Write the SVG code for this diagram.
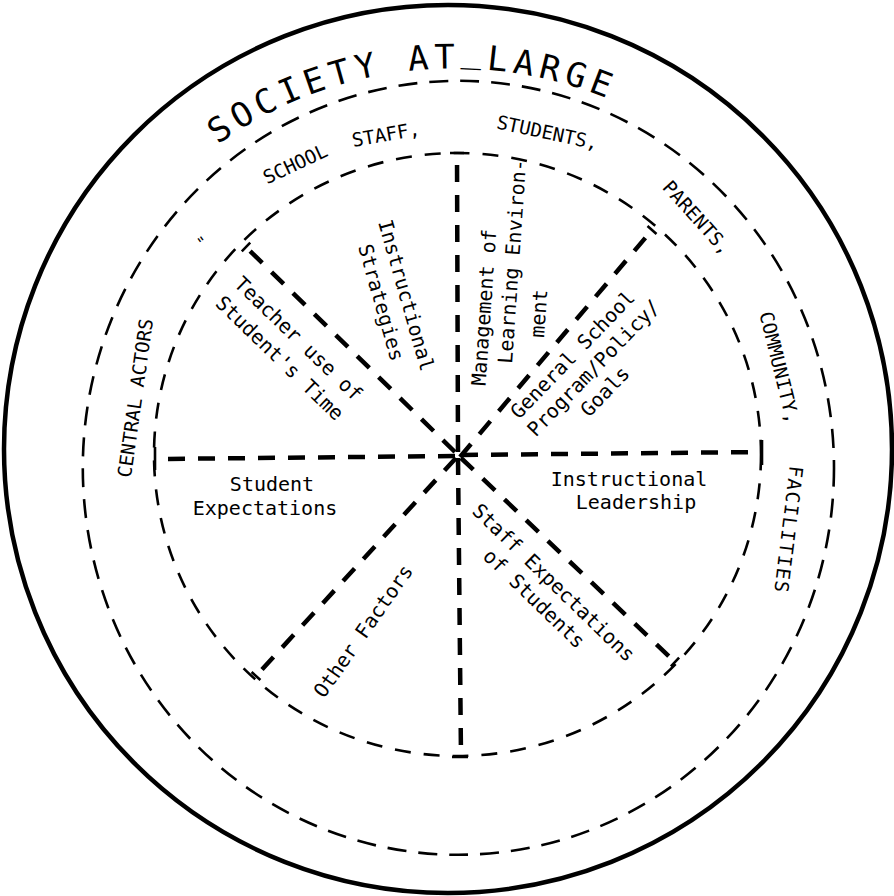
<svg xmlns="http://www.w3.org/2000/svg" width="894" height="896" viewBox="0 0 894 896">
<style>
.bg{fill:#fff}
.outer{fill:none;stroke:#000;stroke-width:4.5}
.ringM{fill:none;stroke:#000;stroke-width:2.6;stroke-dasharray:19 12}
.ringI{fill:none;stroke:#000;stroke-width:2.6;stroke-dasharray:16 13}
.tick{fill:none;stroke:#000;stroke-width:2.6}
.spoke{fill:none;stroke:#000;stroke-width:4.5;stroke-dasharray:17 13}
text{font-family:"DejaVu Sans Mono","Liberation Mono",monospace;fill:#000}
.title{font-size:34px;letter-spacing:5.4px}
.rl{font-size:19px;text-anchor:middle}
.sl{font-size:20px;text-anchor:middle}
.ss{font-size:20px}
</style>
<defs>
<path id="titleArc" d="M217.6,144.5 A405.5,405.5 0 0 1 714.7,163.4"/>
</defs>
<rect class="bg" x="0" y="0" width="894" height="896"/>

<g id="society-at-large">
<circle class="outer" cx="448" cy="449" r="444"/>
<text class="title"><textPath href="#titleArc">SOCIETY AT<tspan dy="-7">_</tspan><tspan dy="7">LARGE</tspan></textPath></text>
</g>

<g id="central-actors">
<ellipse class="ringM" cx="458.4" cy="467.8" rx="375.6" ry="387"/>
<text class="rl" transform="translate(298,170) rotate(-25)">SCHOOL</text>
<text class="rl" transform="translate(387,141) rotate(-10)">STAFF,</text>
<text class="rl" transform="translate(546,139) rotate(12)">STUDENTS,</text>
<text class="rl" transform="translate(692,222) rotate(48)">PARENTS,</text>
<text class="rl" transform="translate(773,369) rotate(76)">COMMUNITY,</text>
<text class="rl" transform="translate(782,529) rotate(97)" style="letter-spacing:1.4px">FACILITIES</text>
<text class="rl" transform="translate(142,399) rotate(-82)">CENTRAL ACTORS</text>
<text class="rl" transform="translate(206,247) rotate(-35)" style="font-size:16px">"</text>
</g>

<g id="factors-ring">
<ellipse class="ringI" cx="457.5" cy="454.5" rx="303.5" ry="301.5"/>
<path class="tick" d="M450,153H464 M241.8,251.3L250.2,242.7 M647.5,226.1L656.5,233.9 M679.1,657.7L670.9,666.3 M251.6,672L260.4,680 M452,757H468 M155,447V470 M762,440V465"/>
</g>

<g id="connectors">
<path class="spoke" d="M458,452L457,153"/>
<path class="spoke" d="M460,457L652,230"/>
<path class="spoke" d="M461,455L762,452"/>
<path class="spoke" d="M461,458L675,662"/>
<path class="spoke" d="M458,458L461,757"/>
<path class="spoke" d="M456,458L256,676"/>
<path class="spoke" d="M455,456L160,459"/>
<path class="spoke" d="M455,452L246,247"/>
</g>

<g id="teacher-use-of-students-time">
<text class="sl" transform="translate(293.7,343.7) rotate(44)"><tspan x="0" y="0">Teacher use of</tspan><tspan x="0" y="27">Student's Time</tspan></text>
</g>

<g id="instructional-strategies">
<text class="sl" transform="translate(399.5,297.2) rotate(74)"><tspan x="0" y="0">Instructional</tspan><tspan x="0" y="26">Strategies</tspan></text>
</g>

<g id="management-of-learning-environment">
<text class="ss" transform="translate(485.5,386) rotate(-86)"><tspan x="0" y="0">Management of</tspan><tspan x="23.8" y="24.9">Learning Environ-</tspan><tspan x="52" y="55">ment</tspan></text>
</g>

<g id="general-school-program">
<text class="sl" transform="translate(577.5,359.4) rotate(-46)"><tspan x="0" y="0">General School</tspan><tspan x="5" y="24.5">Program/Policy/</tspan><tspan x="-4" y="49">Goals</tspan></text>
</g>

<g id="student-expectations">
<text class="sl"><tspan x="272" y="491">Student</tspan><tspan x="265" y="515">Expectations</tspan></text>
</g>

<g id="instructional-leadership">
<text class="sl"><tspan x="629" y="486">Instructional</tspan><tspan x="636" y="509">Leadership</tspan></text>
</g>

<g id="staff-expectations-of-students">
<text class="sl" transform="translate(548.9,587.6) rotate(44)"><tspan x="0" y="0">Staff Expectations</tspan><tspan x="-3" y="25">of Students</tspan></text>
</g>

<g id="other-factors">
<text class="sl" transform="translate(369,635) rotate(-55)">Other Factors</text>
</g>
</svg>
